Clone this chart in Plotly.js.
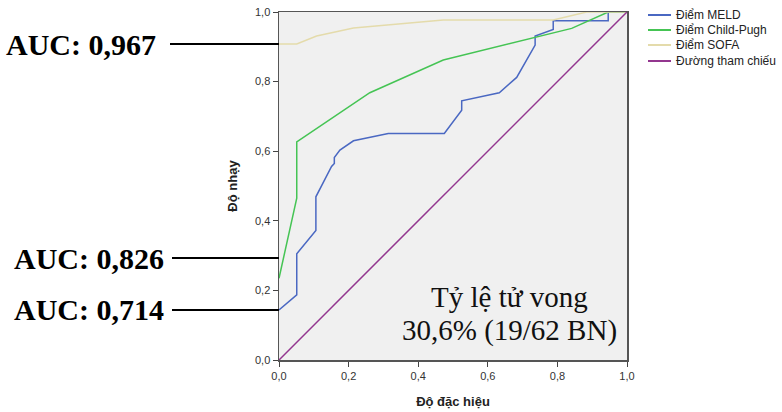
<!DOCTYPE html>
<html>
<head>
<meta charset="utf-8">
<script src="https://cdn.plot.ly/plotly-3.0.1.min.js"></script>
<style>
html,body{margin:0;padding:0;background:#fff;}
#chart{width:782px;height:412px;}
</style>
</head>
<body>
<div id="chart"></div>
<script>
// Data
const meldX = [0, 0.051, 0.051, 0.106, 0.106, 0.151, 0.159, 0.159, 0.175, 0.214, 0.314, 0.475, 0.525, 0.525, 0.633, 0.683, 0.736, 0.736, 0.788, 0.788, 0.946, 0.946, 1.0];
const meldY = [0.144, 0.187, 0.305, 0.372, 0.469, 0.556, 0.565, 0.582, 0.603, 0.630, 0.651, 0.651, 0.718, 0.745, 0.768, 0.812, 0.905, 0.931, 0.950, 0.975, 0.975, 1.0, 1.0];
const cpX = [0, 0.051, 0.051, 0.261, 0.472, 0.736, 0.841, 0.946, 1.0];
const cpY = [0.235, 0.465, 0.627, 0.768, 0.862, 0.927, 0.953, 1.0, 1.0];
const sofaX = [0, 0.051, 0.108, 0.214, 0.472, 0.788, 0.884, 1.0];
const sofaY = [0.908, 0.908, 0.931, 0.954, 0.977, 0.977, 1.0, 1.0];
const refX = [0, 1];
const refY = [0, 1];

const seriesNames = ["Điểm MELD", "Điểm Child-Pugh", "Điểm SOFA", "Đường tham chiếu"];
const aucLabels = ["AUC: 0,967", "AUC: 0,826", "AUC: 0,714"];
const aucY = [0.908, 0.293, 0.144];
const noteLines = ["Tỷ lệ tử vong", "30,6% (19/62 BN)"];
const xTitle = "Độ đặc hiệu";
const yTitle = "Độ nhạy";
const tickVals = [0, 0.2, 0.4, 0.6, 0.8, 1.0];

const colors = ["#4a68c2", "#45c454", "#e4dbab", "#93368f"];

const traces = [
  {x: meldX, y: meldY, name: seriesNames[0], line: {color: colors[0], width: 1.5}},
  {x: cpX, y: cpY, name: seriesNames[1], line: {color: colors[1], width: 1.5}},
  {x: sofaX, y: sofaY, name: seriesNames[2], line: {color: colors[2], width: 1.5}},
  {x: refX, y: refY, name: seriesNames[3], line: {color: colors[3], width: 1.5}}
].map(t => Object.assign({type: 'scatter', mode: 'lines', hoverinfo: 'skip', showlegend: false}, t));

// pixel helpers for the plot frame (left 279, top 12, size 348)
const plotLeft = 279, plotTop = 12, plotSize = 348;
const px = v => (v - plotLeft) / plotSize;
const py = v => (plotTop + plotSize - v) / plotSize;

const aucRight = [158, 166, 166];
const lineStartPx = [170, 172, 172];

const annotations = aucLabels.map((txt, i) => ({
  text: '<b>' + txt + '</b>',
  xref: 'paper', yref: 'y',
  x: px(aucRight[i]), y: aucY[i],
  xanchor: 'right', yanchor: 'middle',
  showarrow: false,
  font: {family: 'Liberation Serif, Times New Roman, serif', size: 30, color: '#000'}
}));
const noteY = [297, 330];
noteLines.forEach((t, i) => annotations.push({
  text: t,
  xref: 'paper', yref: 'paper',
  x: px(509), y: py(noteY[i]),
  xanchor: 'center', yanchor: 'middle',
  showarrow: false,
  font: {family: 'Liberation Serif, Times New Roman, serif', size: 29, color: '#111'}
}));

const shapes = aucY.map((yv, i) => ({
  type: 'line', xref: 'paper', yref: 'y',
  x0: px(lineStartPx[i]), x1: 0,
  y0: yv, y1: yv,
  line: {color: '#000', width: 2}
}));

// custom compact legend (SPSS style)
const legRows = [15, 30, 45, 61];
seriesNames.forEach((n, i) => {
  shapes.push({
    type: 'line', xref: 'paper', yref: 'paper',
    x0: px(648), x1: px(671), y0: py(legRows[i]), y1: py(legRows[i]),
    line: {color: colors[i], width: 2}
  });
  annotations.push({
    text: n, xref: 'paper', yref: 'paper',
    x: px(674), y: py(legRows[i]),
    xanchor: 'left', yanchor: 'middle', showarrow: false,
    font: {family: 'Liberation Sans, Arial, sans-serif', size: 12, color: '#222'}
  });
});

const axisCommon = {
  range: [0, 1],
  tickvals: tickVals,
  tickformat: '.1f',
  ticks: 'outside',
  ticklen: 5,
  tickwidth: 1,
  tickcolor: '#444',
  showline: true,
  linecolor: '#555',
  linewidth: 1.5,
  mirror: true,
  showgrid: false,
  zeroline: false,
  tickfont: {family: 'Liberation Sans, Arial, sans-serif', size: 11, color: '#333'},
  fixedrange: true,
  automargin: false
};

const layout = {
  width: 782, height: 412,
  margin: {l: 279, r: 155, t: 12, b: 52, autoexpand: false},
  paper_bgcolor: '#ffffff',
  plot_bgcolor: '#f0f0f0',
  separators: ',.',
  showlegend: false,
  xaxis: Object.assign({}, axisCommon, {
    title: {text: '<b>' + xTitle + '</b>', standoff: 16,
      font: {family: 'Liberation Sans, Arial, sans-serif', size: 13, color: '#222'}}
  }),
  yaxis: Object.assign({}, axisCommon, {
    title: {text: '<b>' + yTitle + '</b>', standoff: 14,
      font: {family: 'Liberation Sans, Arial, sans-serif', size: 13, color: '#222'}}
  }),
  annotations: annotations,
  shapes: shapes
};

Plotly.newPlot('chart', traces, layout, {staticPlot: true, displayModeBar: false});
</script>
</body>
</html>
